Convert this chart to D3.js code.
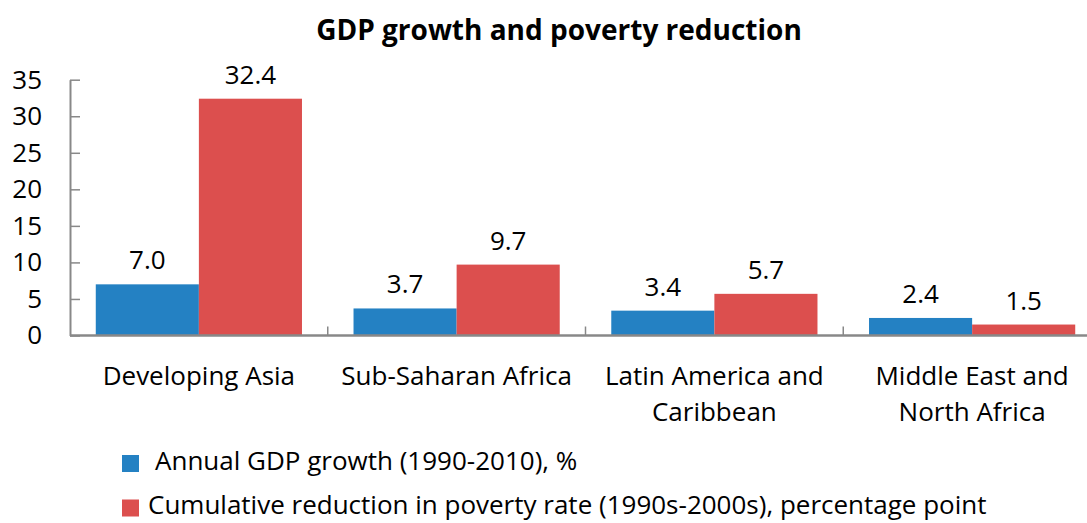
<!DOCTYPE html>
<style>
  body { margin: 0; background: #fff; }
  text { font-family: "Open Sans", sans-serif; fill: #000; }
</style>
<svg width="1087" height="523"></svg>
<script src="https://d3js.org/d3.v7.min.js"></script>
<script>
// data
var regions = ["Developing Asia", "Sub-Saharan Africa", "Latin America and Caribbean", "Middle East and North Africa"];
var regionLines = [["Developing Asia"], ["Sub-Saharan Africa"], ["Latin America and", "Caribbean"], ["Middle East and", "North Africa"]];
var gdpGrowth = [7.0, 3.7, 3.4, 2.4];
var povertyCut = [32.4, 9.7, 5.7, 1.5];
var seriesNames = ["Annual GDP growth (1990-2010), %", "Cumulative reduction in poverty rate (1990s-2000s), percentage point"];
var seriesColors = ["#2481C3", "#DC4F4E"];
var yTicks = [0, 5, 10, 15, 20, 25, 30, 35];

var svg = d3.select("svg");
var axisColor = "#888888";

var x0 = d3.scaleBand().domain(regions).range([70, 1101]).padding(0);
var x1 = d3.scaleBand().domain([0, 1]).range([0, x0.bandwidth()]).paddingInner(0).paddingOuter(0.25);
var y = d3.scaleLinear().domain([0, 35]).range([335.5, 79.7]);

// title
svg.append("text")
    .attr("x", 559).attr("y", 40)
    .attr("text-anchor", "middle")
    .style("font-size", "28px").style("font-weight", "bold")
    .text("GDP growth and poverty reduction");

// bars
var rows = regions.map(function(r, i) { return { region: r, values: [gdpGrowth[i], povertyCut[i]] }; });
var groups = svg.selectAll("g.grp").data(rows).enter().append("g")
    .attr("class", "grp")
    .attr("transform", function(d) { return "translate(" + x0(d.region) + ",0)"; });

groups.selectAll("rect").data(function(d) { return d.values; }).enter().append("rect")
    .attr("x", function(d, i) { return x1(i); })
    .attr("width", x1.bandwidth())
    .attr("y", function(d) { return y(d); })
    .attr("height", function(d) { return y(0) - y(d); })
    .attr("fill", function(d, i) { return seriesColors[i]; });

groups.selectAll("text.val").data(function(d) { return d.values; }).enter().append("text")
    .attr("class", "val")
    .attr("x", function(d, i) { return x1(i) + x1.bandwidth() / 2; })
    .attr("y", function(d) { return y(d) - 15; })
    .attr("text-anchor", "middle")
    .style("font-size", "26px")
    .text(function(d) { return d3.format(".1f")(d); });

// y axis, ticks pointing into the plot
var yAxis = svg.append("g")
    .attr("transform", "translate(70,0)")
    .call(d3.axisLeft(y).tickValues(yTicks).tickSizeInner(-10).tickSizeOuter(0).tickPadding(28));
yAxis.select(".domain").attr("stroke", axisColor).attr("stroke-width", 2);
yAxis.selectAll(".tick line").attr("stroke", axisColor).attr("stroke-width", 1.5);
yAxis.selectAll(".tick text").style("font-size", "26px").style("font-family", "Open Sans").attr("fill", "#000");

// x axis: baseline plus short upward ticks between categories
var xAxis = svg.append("g")
    .attr("transform", "translate(0," + y(0) + ")");
xAxis.append("line")
    .attr("x1", x0.range()[0]).attr("x2", x0.range()[1])
    .attr("stroke", axisColor).attr("stroke-width", 2.5);
xAxis.selectAll("line.sep").data(regions.slice(1)).enter().append("line")
    .attr("class", "sep")
    .attr("x1", function(d) { return x0(d); }).attr("x2", function(d) { return x0(d); })
    .attr("y1", 0).attr("y2", -9)
    .attr("stroke", axisColor).attr("stroke-width", 1.5);

var labels = svg.selectAll("text.cat").data(regions).enter().append("text")
    .attr("class", "cat")
    .attr("text-anchor", "middle")
    .style("font-size", "26px");
labels.selectAll("tspan").data(function(d, i) { return regionLines[i]; }).enter().append("tspan")
    .attr("x", function() { var r = d3.select(this.parentNode).datum(); return x0(r) + x0.bandwidth() / 2; })
    .attr("y", function(d, i) { return 385 + i * 36; })
    .text(function(d) { return d; });

// legend
var legendY = [455, 499.5];
var legendTextX = [155, 148];
var legend = svg.selectAll("g.leg").data(seriesNames).enter().append("g").attr("class", "leg");
legend.append("rect")
    .attr("x", 122).attr("y", function(d, i) { return legendY[i]; })
    .attr("width", 17).attr("height", 17)
    .attr("fill", function(d, i) { return seriesColors[i]; });
legend.append("text")
    .attr("x", function(d, i) { return legendTextX[i]; })
    .attr("y", function(d, i) { return legendY[i] + 14.5; })
    .style("font-size", "26px")
    .text(function(d) { return d; });
</script>
